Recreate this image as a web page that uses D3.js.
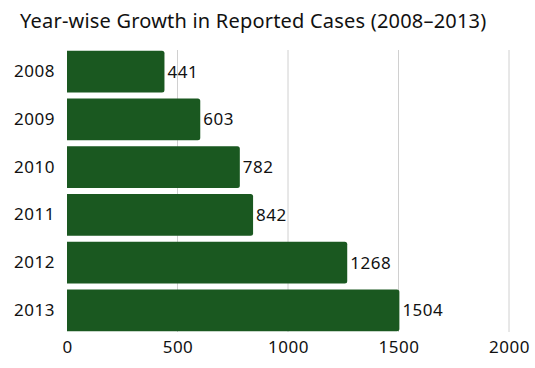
<!DOCTYPE html>
<html><head><meta charset="utf-8">
<script src="https://cdn.jsdelivr.net/npm/d3@7"></script>
<style>body{margin:0;background:#fff}svg{display:block}text{font-family:"Noto Sans",sans-serif;fill:#111}</style>
</head><body>
<svg id="c" width="535" height="368"></svg>
<script>
const years = ["2008","2009","2010","2011","2012","2013"];
const cases = [441, 603, 782, 842, 1268, 1504];
const xTicks = [0, 500, 1000, 1500, 2000];
const title = "Year-wise Growth in Reported Cases (2008–2013)";

const svg = d3.select("#c");
const x = d3.scaleLinear().domain([0, 2000]).range([67, 509]);
const y = d3.scaleBand().domain(years).range([48, 334]).paddingInner(0.13).paddingOuter(0.06);

svg.append("text").attr("x", 20).attr("y", 28).attr("font-size", 20)
  .attr("letter-spacing", 0.2).text(title);

svg.append("g").selectAll("line").data(xTicks.slice(1)).join("line")
  .attr("x1", d => x(d)).attr("x2", d => x(d))
  .attr("y1", 50).attr("y2", 332)
  .attr("stroke", "#d0d0d0").attr("stroke-width", 1);

const bars = svg.append("g");
years.forEach((yr, i) => {
  const x0 = x(0), x1 = x(cases[i]), y0 = y(yr), h = y.bandwidth(), r = 2.5;
  bars.append("path")
    .attr("d", `M${x0},${y0}H${x1-r}Q${x1},${y0} ${x1},${y0+r}V${y0+h-r}Q${x1},${y0+h} ${x1-r},${y0+h}H${x0}Z`)
    .attr("fill", "#1a5820");
});

svg.append("g").selectAll("text").data(years).join("text")
  .attr("x", (d, i) => x(cases[i]) + 3)
  .attr("y", d => y(d) + y.bandwidth() / 2)
  .attr("dy", "0.35em").attr("font-size", 17).attr("letter-spacing", 0.5)
  .text((d, i) => cases[i]);

const xAxis = svg.append("g").attr("transform", "translate(0,334)")
  .call(d3.axisBottom(x).tickValues(xTicks).tickSize(0).tickPadding(7).tickFormat(d3.format("d")));
xAxis.select(".domain").remove();
xAxis.selectAll("text").attr("font-size", 17).attr("letter-spacing", 0.5)
  .attr("font-family", "Noto Sans").attr("fill", "#111");

const yAxis = svg.append("g").attr("transform", "translate(67,0)")
  .call(d3.axisLeft(y).tickSize(0).tickPadding(12));
yAxis.select(".domain").remove();
yAxis.selectAll("text").attr("font-size", 17).attr("letter-spacing", 0.5)
  .attr("font-family", "Noto Sans").attr("fill", "#111");
</script>
</body></html>
